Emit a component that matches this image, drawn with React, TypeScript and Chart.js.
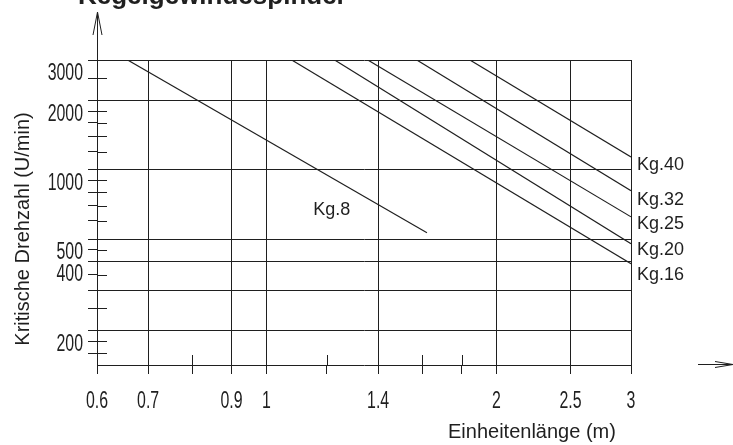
import { useEffect, useRef } from 'react';
import { Chart, registerables } from 'chart.js';

Chart.register(...registerables);

const TITLE = 'Kegelgewindespindel';
const X_TITLE = 'Einheitenlänge (m)';
const Y_TITLE = 'Kritische Drehzahl (U/min)';

const SERIES_NAMES = ['Kg.8', 'Kg.16', 'Kg.20', 'Kg.25', 'Kg.32', 'Kg.40'];
const START_LENGTHS = [0.658, 1.079, 1.228, 1.357, 1.573, 1.846];
const START_SPEEDS = [3000, 3000, 3000, 3000, 3000, 3000];
const END_LENGTHS = [1.622, 3, 3, 3, 3, 3];
const END_SPEEDS = [533, 391, 478, 625, 811, 1138];

const X_TICKS = [0.6, 0.7, 0.8, 0.9, 1, 1.2, 1.4, 1.6, 1.8, 2, 2.5, 3];
const X_LABELED = [0.6, 0.7, 0.9, 1, 1.4, 2, 2.5, 3];
const X_GRID = [0.7, 0.9, 1, 1.4, 2, 2.5, 3];
const Y_TICKS = [160, 180, 200, 250, 300, 350, 400, 450, 500, 600, 700, 800, 900, 1000, 1200, 1400, 1600, 1800, 2000, 2500, 3000];
const Y_LABELED = [200, 400, 500, 1000, 2000, 3000];
const Y_GRID = [200, 300, 400, 500, 1000, 2000, 3000];
const X_MIN = 0.6;
const X_MAX = 3;
const Y_MIN = 142;
const Y_MAX = 3000;

// label anchor for the short Kg.8 curve (data units)
const KG8_LABEL_LENGTH = 1.217;
const KG8_LABEL_SPEED = 635;

// ---- styling (not data) ----
const INK = '#1f1f1f';
const SANS = '"Liberation Sans", Arial, sans-serif';
const TICK_FONT_SIZE = 23;
const TICK_SQUEEZE = 0.69;
const LABEL_DY: Record<string, number> = {
  'Kg.16': 16.5,
  'Kg.20': 11.5,
  'Kg.25': 12.5,
  'Kg.32': 14.5,
  'Kg.40': 13.5,
};

function squeezedText(ctx: CanvasRenderingContext2D, text: string, x: number, y: number, align: CanvasTextAlign) {
  ctx.save();
  ctx.translate(x, y);
  ctx.scale(TICK_SQUEEZE, 1);
  ctx.textAlign = align;
  ctx.textBaseline = 'alphabetic';
  ctx.fillText(text, 0, 0);
  ctx.restore();
}

const decoPlugin = {
  id: 'deco',
  afterDraw(chart: any) {
    const { ctx, chartArea: a, scales } = chart;
    const x = scales.x;
    const y = scales.y;
    ctx.save();
    ctx.strokeStyle = INK;
    ctx.lineWidth = 1;
    ctx.beginPath();
    // inward part of the minor tick marks
    Y_TICKS.filter((v) => !Y_GRID.includes(v)).forEach((v) => {
      const py = Math.round(y.getPixelForValue(v)) + 0.5;
      ctx.moveTo(a.left, py);
      ctx.lineTo(a.left + 10, py);
    });
    X_TICKS.filter((v) => !X_GRID.includes(v) && v !== X_MIN).forEach((v) => {
      const px = Math.round(x.getPixelForValue(v)) + 0.5;
      ctx.moveTo(px, a.bottom);
      ctx.lineTo(px, a.bottom - 10);
    });
    // y axis arrow
    const ax = Math.round(a.left) + 0.5;
    ctx.moveTo(ax, a.top);
    ctx.lineTo(ax, 12);
    ctx.moveTo(ax - 4.5, 35);
    ctx.lineTo(ax, 12);
    ctx.lineTo(ax + 4.5, 35);
    // x axis arrow
    const ay = Math.round(a.bottom) - 0.5;
    ctx.moveTo(698, ay);
    ctx.lineTo(733, ay);
    ctx.moveTo(715, ay - 3);
    ctx.lineTo(733, ay);
    ctx.lineTo(715, ay + 3);
    ctx.stroke();

    ctx.fillStyle = INK;
    // tick labels (narrow technical lettering)
    ctx.font = `${TICK_FONT_SIZE}px ${SANS}`;
    X_LABELED.forEach((v) => {
      squeezedText(ctx, String(v), x.getPixelForValue(v), a.bottom + 43, 'center');
    });
    Y_LABELED.forEach((v) => {
      squeezedText(ctx, String(v), a.left - 14, y.getPixelForValue(v) + 20, 'right');
    });

    // series labels
    ctx.font = `18px ${SANS}`;
    ctx.textBaseline = 'alphabetic';
    ctx.textAlign = 'left';
    SERIES_NAMES.forEach((name, i) => {
      if (LABEL_DY[name] === undefined) return;
      const py = y.getPixelForValue(END_SPEEDS[i]);
      const px = x.getPixelForValue(END_LENGTHS[i]);
      ctx.fillText(name, px + 6, py + LABEL_DY[name]);
    });
    ctx.textAlign = 'center';
    ctx.fillText(SERIES_NAMES[0], x.getPixelForValue(KG8_LABEL_LENGTH), y.getPixelForValue(KG8_LABEL_SPEED));

    // axis titles
    ctx.font = `20px ${SANS}`;
    ctx.textAlign = 'left';
    ctx.fillText(X_TITLE, 448, 438);
    ctx.save();
    ctx.translate(29, 229);
    ctx.rotate(-Math.PI / 2);
    ctx.textAlign = 'center';
    ctx.fillText(Y_TITLE, 0, 0);
    ctx.restore();

    // chart title (cut off by the top edge)
    ctx.font = `bold 26px ${SANS}`;
    ctx.textAlign = 'left';
    ctx.fillText(TITLE, 78, 4);
    ctx.restore();
  },
};

export default function App() {
  const canvasRef = useRef<HTMLCanvasElement | null>(null);

  useEffect(() => {
    const canvas = canvasRef.current;
    if (!canvas) return;
    const datasets = SERIES_NAMES.map((name, i) => ({
      label: name,
      data: [
        { x: START_LENGTHS[i], y: START_SPEEDS[i] },
        { x: END_LENGTHS[i], y: END_SPEEDS[i] },
      ],
      borderColor: INK,
      borderWidth: 1.2,
      pointRadius: 0,
      tension: 0,
      fill: false,
    }));

    const chart = new Chart(canvas, {
      type: 'line',
      data: { datasets },
      plugins: [decoPlugin],
      options: {
        responsive: false,
        animation: false,
        devicePixelRatio: 1,
        layout: { padding: { top: 60, right: 102, left: 0, bottom: 0 } },
        plugins: {
          legend: { display: false },
          tooltip: { enabled: false },
          title: { display: false },
        },
        scales: {
          x: {
            type: 'logarithmic',
            min: X_MIN,
            max: X_MAX,
            afterFit: (s: any) => {
              s.height = 80;
            },
            afterBuildTicks: (s: any) => {
              s.ticks = X_TICKS.map((v) => ({ value: v }));
            },
            grid: {
              color: (c: any) => (c.tick && X_GRID.includes(c.tick.value) ? INK : 'rgba(0,0,0,0)'),
              tickColor: INK,
              tickLength: 9,
              lineWidth: 1,
            },
            border: { display: true, color: INK, width: 1 },
            ticks: {
              display: false,
              autoSkip: false,
              callback: (v: any) => (X_LABELED.includes(Number(v)) ? String(v) : ''),
            },
          },
          y: {
            type: 'logarithmic',
            min: Y_MIN,
            max: Y_MAX,
            afterFit: (s: any) => {
              s.width = 97;
            },
            afterBuildTicks: (s: any) => {
              s.ticks = Y_TICKS.map((v) => ({ value: v }));
            },
            grid: {
              color: (c: any) => (c.tick && Y_GRID.includes(c.tick.value) ? INK : 'rgba(0,0,0,0)'),
              tickColor: INK,
              tickLength: 9,
              lineWidth: 1,
            },
            border: { display: true, color: INK, width: 1 },
            ticks: {
              display: false,
              autoSkip: false,
              callback: (v: any) => (Y_LABELED.includes(Number(v)) ? String(v) : ''),
            },
          },
        },
      },
    } as any);

    return () => chart.destroy();
  }, []);

  return (
    <div style={{ position: 'fixed', left: 0, top: 0, width: 733, height: 445, background: '#fff' }}>
      <canvas ref={canvasRef} width={733} height={445} style={{ display: 'block' }} />
    </div>
  );
}
